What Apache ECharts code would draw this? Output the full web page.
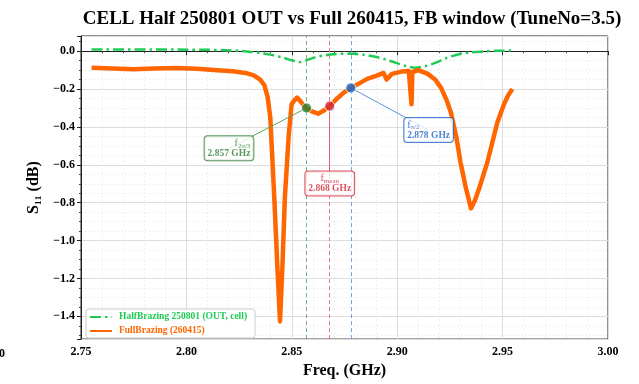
<!DOCTYPE html>
<html>
<head>
<meta charset="utf-8">
<script src="https://cdn.jsdelivr.net/npm/echarts@6/dist/echarts.min.js"></script>
<style>
html, body { margin: 0; padding: 0; background: #fff; }
#chart { width: 639px; height: 384px; }
</style>
</head>
<body>
<div id="chart"></div>
<script>
// HalfBrazing 250801 (OUT, cell) - dash-dot green
var halfFreq = [2.755, 2.770, 2.785, 2.800, 2.810, 2.818, 2.825, 2.831, 2.836, 2.841, 2.846, 2.850, 2.8535,
  2.857, 2.861, 2.865, 2.870, 2.8775, 2.884, 2.889, 2.894, 2.8995, 2.904, 2.9085, 2.913, 2.918, 2.923,
  2.928, 2.934, 2.9405, 2.947, 2.955];
var halfS11 = [0.009, 0.009, 0.009, 0.008, 0.007, 0.005, 0.002, -0.004, -0.011, -0.021, -0.035, -0.048, -0.058,
  -0.048, -0.033, -0.023, -0.016, -0.013, -0.019, -0.028, -0.042, -0.062, -0.078, -0.087, -0.080, -0.062, -0.038,
  -0.020, -0.008, -0.002, 0.002, 0.003];

// FullBrazing (260415) - orange
var fullFreq = [2.755, 2.765, 2.775, 2.785, 2.795, 2.805, 2.813, 2.822, 2.828, 2.832, 2.835, 2.837, 2.8385,
  2.8398, 2.8417, 2.8432, 2.8444, 2.8455, 2.8467, 2.8485, 2.8499, 2.8512, 2.8525, 2.8545, 2.8565, 2.8595,
  2.8625, 2.8650, 2.8680, 2.8710, 2.8745, 2.8780, 2.882, 2.886, 2.890, 2.8935, 2.8950, 2.8975, 2.902,
  2.9055, 2.9064, 2.9068, 2.9072, 2.910, 2.9145, 2.918, 2.9208, 2.9235, 2.9255, 2.928, 2.930, 2.9326,
  2.935, 2.9368, 2.9389, 2.9428, 2.9475, 2.9505, 2.9523, 2.9546];
var fullS11 = [-0.088, -0.092, -0.096, -0.092, -0.089, -0.093, -0.099, -0.106, -0.115, -0.128, -0.150, -0.180, -0.240,
  -0.350, -0.776, -1.150, -1.427, -1.150, -0.776, -0.450, -0.280, -0.260, -0.245, -0.270, -0.298, -0.318,
  -0.330, -0.315, -0.290, -0.255, -0.220, -0.194, -0.170, -0.145, -0.130, -0.115, -0.150, -0.120, -0.108,
  -0.105, -0.110, -0.280, -0.110, -0.100, -0.120, -0.150, -0.194, -0.260, -0.325, -0.450, -0.585, -0.724,
  -0.830, -0.790, -0.724, -0.585, -0.377, -0.285, -0.240, -0.200];

// marked frequencies
var markSub = ['2π/3', 'mean', 'π/2'];
var markFreq = [2.857, 2.868, 2.878];
var markS11 = [-0.300, -0.290, -0.194];
var markColor = ['#2e7d32', '#d1283a', '#1f63c6'];
var markLineColor = ['#5aa65a', '#e06272', '#5b93d8'];
var markAlign = ['right', 'center', 'left'];
var boxFreq = [2.8202, 2.868, 2.9149];
var boxS11 = [-0.513, -0.698, -0.416];

var Y_MIN = -1.52, Y_MAX = 0.08;
var GREEN = '#1fcb55';
var ORANGE = '#ff6600';
var SERIF = "'Liberation Serif', 'DejaVu Serif', serif";

function pairs(xs, ys) {
  var out = [];
  for (var i = 0; i < xs.length; i++) out.push([xs[i], ys[i]]);
  return out;
}

var guideLines = [];
var markerData = [];
var boxData = [];
for (var i = 0; i < markFreq.length; i++) {
  guideLines.push([
    { coord: [markFreq[i], Y_MIN], lineStyle: { color: markLineColor[i], type: [4, 3], width: 1, opacity: 0.85 } },
    { coord: [markFreq[i], Y_MAX] }
  ]);
  guideLines.push([
    { coord: [markFreq[i], markS11[i]], lineStyle: { color: markLineColor[i], type: 'solid', width: 1 } },
    { coord: [boxFreq[i], boxS11[i]] }
  ]);
  markerData.push({ value: [markFreq[i], markS11[i]], itemStyle: { color: markColor[i] } });
  var a = markAlign[i];
  boxData.push({
    value: [boxFreq[i], boxS11[i]],
    label: {
      color: markColor[i],
      borderColor: markColor[i],
      formatter: '{f|f}{s|' + markSub[i] + '}\n{v|' + markFreq[i].toFixed(3) + ' GHz}',
      rich: {
        f: { fontFamily: SERIF, fontSize: 10, lineHeight: 10, verticalAlign: 'top', align: a, color: markColor[i] },
        s: { fontFamily: SERIF, fontSize: 7, lineHeight: 7, padding: [4, 0, 0, 0], verticalAlign: 'top', align: a, color: markColor[i] },
        v: { fontFamily: SERIF, fontSize: 9.5, fontWeight: 'bold', lineHeight: 11, align: 'center', color: markColor[i] }
      }
    }
  });
}

var myChart = echarts.init(document.getElementById('chart'));

var option = {
  animation: false,
  backgroundColor: '#fff',
  title: {
    text: 'CELL Half 250801 OUT vs Full 260415, FB window (TuneNo=3.5)',
    left: 347,
    top: 5,
    textAlign: 'center',
    textStyle: { fontFamily: SERIF, fontSize: 19, fontWeight: 'bold', color: '#000' }
  },
  legend: {
    orient: 'vertical',
    left: 86,
    top: 309,
    padding: [3, 8, 2, 3],
    itemGap: 4,
    itemWidth: 22,
    itemHeight: 10,
    itemStyle: { opacity: 0 },
    backgroundColor: 'rgba(255,255,255,0.85)',
    borderColor: '#cccccc',
    borderWidth: 1,
    borderRadius: 3,
    textStyle: { fontFamily: SERIF, fontSize: 9.5, fontWeight: 'bold', padding: [0, 0, 0, 2] },
    data: [
      { name: 'HalfBrazing 250801 (OUT, cell)', textStyle: { color: GREEN } },
      { name: 'FullBrazing (260415)', textStyle: { color: ORANGE } }
    ]
  },
  grid: { left: 81, right: 31, top: 36, bottom: 41, show: true, borderColor: '#222', borderWidth: 1, backgroundColor: '#fff' },
  xAxis: {
    type: 'value',
    min: 2.75,
    max: 3.0,
    interval: 0.05,
    name: 'Freq. (GHz)',
    nameLocation: 'middle',
    nameGap: 22,
    nameTextStyle: { fontFamily: SERIF, fontSize: 16, fontWeight: 'bold', color: '#000' },
    axisLine: { lineStyle: { color: '#222', width: 1 } },
    axisTick: { show: true, length: 4, lineStyle: { color: '#222' } },
    minorTick: { show: true, splitNumber: 5, length: 2, lineStyle: { color: '#444' } },
    axisLabel: { fontFamily: SERIF, fontSize: 12, fontWeight: 'bold', color: '#000', margin: 7,
      formatter: function (v) { return v.toFixed(2); } },
    splitLine: { show: true, lineStyle: { color: '#dcdcdc', width: 1 } },
    minorSplitLine: { show: true, lineStyle: { color: '#ececec', width: 0.8, type: [2, 2] } }
  },
  yAxis: {
    type: 'value',
    min: Y_MIN,
    max: Y_MAX,
    splitNumber: 8,
    name: 'S₁₁ (dB)',
    nameLocation: 'middle',
    nameGap: 36,
    nameTextStyle: { fontFamily: SERIF, fontSize: 16, fontWeight: 'bold', color: '#000' },
    axisLine: { lineStyle: { color: '#222', width: 1 } },
    axisTick: { show: true, length: 4, lineStyle: { color: '#222' } },
    minorTick: { show: true, splitNumber: 4, length: 2, lineStyle: { color: '#444' } },
    axisLabel: { fontFamily: SERIF, fontSize: 12, fontWeight: 'bold', color: '#000', margin: 6,
      showMinLabel: false, showMaxLabel: false,
      formatter: function (v) { return Math.abs(v) < 1e-9 ? '0.0' : (v < 0 ? '−' : '') + Math.abs(v).toFixed(1); } },
    splitLine: { show: true, lineStyle: { color: '#dcdcdc', width: 1 } },
    minorSplitLine: { show: true, lineStyle: { color: '#ececec', width: 0.8, type: [2, 2] } }
  },
  series: [
    {
      name: 'guides',
      type: 'line',
      data: [],
      z: 3,
      markLine: { silent: true, z: 3, symbol: ['none', 'none'], label: { show: false }, data: guideLines }
    },
    {
      name: 'HalfBrazing 250801 (OUT, cell)',
      type: 'line',
      data: pairs(halfFreq, halfS11),
      symbol: 'none',
      smooth: 0.3,
      z: 2,
      lineStyle: { color: GREEN, width: 2.5, type: [11, 4, 2.5, 4] },
      itemStyle: { color: GREEN }
    },
    {
      name: 'FullBrazing (260415)',
      type: 'line',
      data: pairs(fullFreq, fullS11),
      symbol: 'none',
      z: 2,
      lineStyle: { color: ORANGE, width: 4.5, join: 'round' },
      itemStyle: { color: ORANGE }
    },
    {
      name: 'markers',
      type: 'scatter',
      data: markerData,
      symbolSize: 10,
      z: 5,
      itemStyle: { borderColor: '#fff', borderWidth: 1 }
    },
    {
      name: 'boxes',
      type: 'scatter',
      data: boxData,
      symbolSize: 0,
      z: 6,
      label: {
        show: true,
        position: 'inside',
        backgroundColor: '#fff',
        borderWidth: 1,
        borderRadius: 3,
        padding: [2, 3, 1, 3]
      }
    }
  ],
  graphic: [
    { type: 'text', left: -1, top: 348, style: { text: '0', font: 'bold 12px ' + SERIF, fill: '#000' } }
  ]
};

myChart.setOption(option);
</script>
</body>
</html>
